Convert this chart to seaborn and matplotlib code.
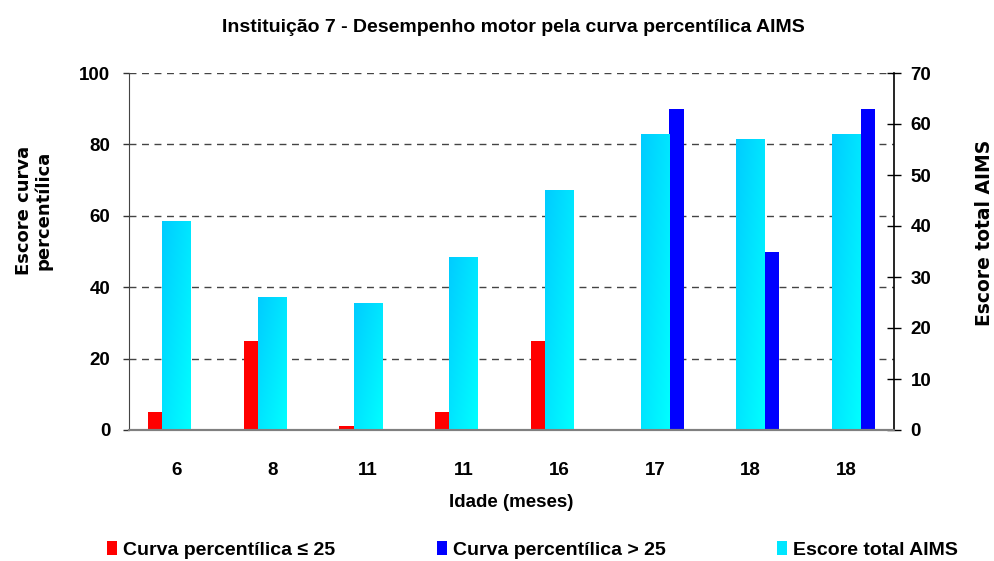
import numpy as np
import pandas as pd
import matplotlib
matplotlib.use("Agg")
import matplotlib.pyplot as plt
import seaborn as sns
from matplotlib.patches import Patch

# ---- data ----
ages = ["6", "8", "11", "11", "16", "17", "18", "18"]
curva_le25 = [5, 25, 1, 5, 25, 0, 0, 0]
curva_gt25 = [0, 0, 0, 0, 0, 90, 50, 90]
escore_total = [41, 26, 25, 34, 47, 58, 57, 58]
left_ticks = [0, 20, 40, 60, 80, 100]
right_ticks = [0, 10, 20, 30, 40, 50, 60, 70]

title = "Instituição 7 - Desempenho motor pela curva percentílica AIMS"
xlabel = "Idade (meses)"
ylabel_left = "Escore curva\npercentílica"
ylabel_right = "Escore total AIMS"
legend_labels = ["Curva percentílica ≤ 25", "Curva percentílica > 25", "Escore total AIMS"]

sns.set_style("white")
BASE = ["Liberation Sans", "DejaVu Sans"]
WIDE = ["DejaVu Sans"]
plt.rcParams["font.family"] = BASE
plt.rcParams["text.color"] = "black"
plt.rcParams["axes.labelcolor"] = "black"
plt.rcParams["xtick.color"] = "black"
plt.rcParams["ytick.color"] = "black"

RED = "#FF0000"
BLUE = "#0000FF"
CYAN = "#00E6FF"

fig = plt.figure(figsize=(9.94, 5.61), dpi=100)
ax = fig.add_axes([129 / 994, 1 - 430 / 561, (894 - 129) / 994, (430 - 73) / 561])
ax2 = ax.twinx()

n = len(ages)
pos = np.arange(n)
df = pd.DataFrame({"pos": pos, "le": curva_le25, "gt": curva_gt25, "tot": escore_total})

sns.barplot(x=df["pos"] - 0.225, y=df["le"], native_scale=True, width=0.15,
            color=RED, saturation=1, errorbar=None, ax=ax, linewidth=0)
sns.barplot(x=df["pos"] + 0.225, y=df["gt"], native_scale=True, width=0.15,
            color=BLUE, saturation=1, errorbar=None, ax=ax, linewidth=0)
sns.barplot(x=df["pos"], y=df["tot"], native_scale=True, width=0.30,
            color=CYAN, saturation=1, errorbar=None, ax=ax2, linewidth=0)

# gradient fill for cyan bars
grad = np.zeros((50, 50, 3))
gx, gy = np.meshgrid(np.linspace(0, 1, 50), np.linspace(0, 1, 50))
t = np.clip((gx + gy) / 2, 0, 1)
grad[..., 1] = (0xCC + (0xFF - 0xCC) * t) / 255
grad[..., 2] = 1.0
for p in list(ax2.patches):
    x0, y0 = p.get_x(), p.get_y()
    w, h = p.get_width(), p.get_height()
    if h <= 0:
        continue
    im = ax2.imshow(grad, extent=[x0, x0 + w, y0, y0 + h], origin="upper",
                    aspect="auto", zorder=p.get_zorder() + 0.1, interpolation="bilinear")
    im.set_clip_path(p)

for a in (ax, ax2):
    a.set_xlim(-0.5, n - 0.5)
ax.set_ylim(0, 100)
ax2.set_ylim(0, 70)

# x ticks: boundaries as major (marks), centers as minor (labels)
ax.set_xticks(np.arange(n + 1) - 0.5)
ax.set_xticklabels([])
ax.set_xticks(pos, minor=True)
ax.set_xticklabels(ages, minor=True, fontsize=13.5, fontweight="bold")
ax.tick_params(axis="x", which="major", direction="out", length=6, width=1, color="#222222", bottom=True)
ax.tick_params(axis="x", which="minor", length=0, pad=23)
ax2.set_xticks([])

ax.set_yticks(left_ticks)
ax.set_yticklabels([str(v) for v in left_ticks], fontsize=13.5, fontweight="bold")
ax.tick_params(axis="y", direction="out", length=4.5, width=1, color="#333333", pad=9, left=True)
ax2.set_yticks(right_ticks)
ax2.set_yticklabels([str(v) for v in right_ticks], fontsize=13.5, fontweight="bold")
ax2.tick_params(axis="y", direction="inout", length=10, width=1, color="black", pad=7, right=True)

ax.yaxis.grid(True, linestyle=(0, (5, 4)), color="#444444", linewidth=1)
ax.xaxis.grid(False)
ax.set_axisbelow(True)

for a in (ax, ax2):
    a.spines["top"].set_visible(False)
ax.spines["right"].set_visible(False)
ax2.spines["left"].set_visible(False)
ax2.spines["bottom"].set_visible(False)
ax.spines["left"].set_color("#444444")
ax.spines["bottom"].set_color("#808080")
ax.spines["bottom"].set_linewidth(1.5)
ax2.spines["right"].set_color("black")
ax2.spines["right"].set_linewidth(1.2)

# redraw bottom line above the bars
ax2.axhline(0, color="#808080", linewidth=1.5, zorder=10, clip_on=False)

ax.set_xlabel(xlabel, fontsize=13.5, labelpad=11, color="black", fontweight="bold")
ax.set_ylabel("")
ax2.set_ylabel("")
fig.text(34 / 994, 1 - 210 / 561, ylabel_left, rotation=90, ha="center", va="center",
         fontsize=13, fontweight="bold", family=WIDE, linespacing=1.1, multialignment="center",
         color="black")
fig.text(984 / 994, 1 - 233 / 561, ylabel_right, rotation=90, ha="center", va="center",
         fontsize=13.5, fontweight="bold", family=WIDE, color="black")

fig.text(513 / 994, 1 - 27 / 561, title, ha="center", va="center", fontsize=14,
         fontweight="bold", color="black")

colors = [RED, BLUE, CYAN]
xs = [107, 437, 777]
for lab, col, xp in zip(legend_labels, colors, xs):
    leg = fig.legend([Patch(facecolor=col, edgecolor="none")], [lab], loc="center left",
                     bbox_to_anchor=(xp / 994, 1 - 550 / 561), frameon=False,
                     prop={"size": 14, "weight": "bold", "family": BASE},
                     handlelength=0.52, handleheight=0.75, handletextpad=0.3,
                     borderpad=0, borderaxespad=0, labelcolor="black")

fig.savefig("out.png", dpi=100)
